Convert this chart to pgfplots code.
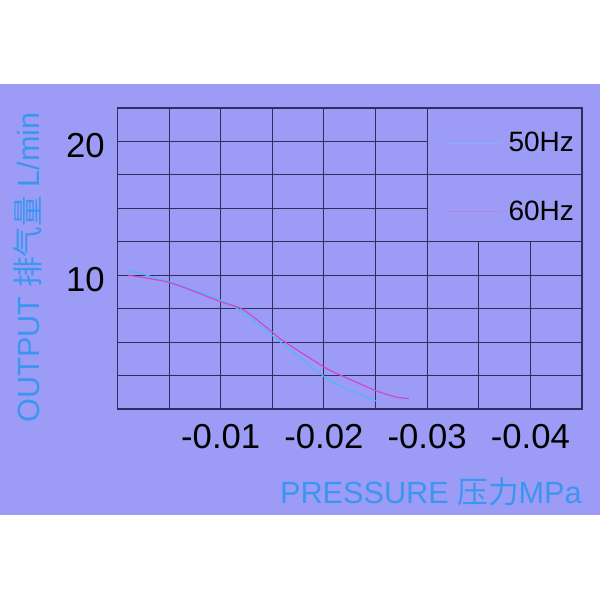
\documentclass[border=0pt]{standalone}
\usepackage{pgfplots}
\pgfplotsset{compat=1.18}
\usepackage{fontspec}
\setmainfont{Liberation Sans}
\newfontfamily\cjk{Noto Sans CJK SC}

\definecolor{bgpanel}{HTML}{9C9CF6}
\definecolor{gridc}{HTML}{2E2E5E}
\definecolor{lblue}{HTML}{3C96F0}
\definecolor{c50}{HTML}{52B6F8}
\definecolor{c60}{HTML}{D048C8}

\begin{document}
\begin{tikzpicture}
  % picture is 450pt x 450pt (1 px = 0.75pt)
  \useasboundingbox (0,0) rectangle (450pt,450pt);
  \fill[white] (0,0) rectangle (450pt,450pt);
  \fill[bgpanel] (0,63.75pt) rectangle (450pt,387pt);

  \begin{axis}[
    at={(88.1pt,143.25pt)}, anchor=south west,
    width=348.4pt, height=225.75pt, scale only axis,
    xmin=-0.045, xmax=0, x dir=reverse,
    ymin=0, ymax=22.5,
    scaled x ticks=false, scaled y ticks=false,
    axis line style={gridc, line width=0.8pt},
    xtick={-0.04,-0.03,-0.02,-0.01},
    xticklabels={-0.04,-0.03,-0.02,-0.01},
    ytick={10,20}, yticklabels={10,20},
    major tick length=0pt,
    tick label style={font=\fontsize{26}{26}\selectfont, black},
    xticklabel style={yshift=-8pt},
    yticklabel style={xshift=-6pt, yshift=-3pt},
    legend style={draw=none, fill=none, at={(0.694,0.77)}, anchor=west,
      font=\fontsize{21}{21}\selectfont, row sep=35pt,
      nodes={inner sep=0pt}},
    legend cell align=left,
    /tikz/every odd column/.append style={column sep=4pt},
    legend image code/.code={\draw[#1] (0pt,0pt) -- (43.5pt,0pt);},
  ]
    % grid, with the legend corner left open
    \foreach \x in {-0.005,-0.01,-0.015,-0.02,-0.025,-0.03}
      {\edef\tmp{\noexpand\draw[gridc, line width=0.8pt] (axis cs:\x,0) -- (axis cs:\x,22.5);}\tmp}
    \foreach \x in {-0.035,-0.04}
      {\edef\tmp{\noexpand\draw[gridc, line width=0.8pt] (axis cs:\x,0) -- (axis cs:\x,12.5);}\tmp}
    \foreach \y in {2.5,5,7.5,10,12.5,17.5}
      {\edef\tmp{\noexpand\draw[gridc, line width=0.8pt] (axis cs:0,\y) -- (axis cs:-0.045,\y);}\tmp}
    \foreach \y in {15,20}
      {\edef\tmp{\noexpand\draw[gridc, line width=0.8pt] (axis cs:0,\y) -- (axis cs:-0.03,\y);}\tmp}

    \addplot[c50, line width=0.9pt, smooth, forget plot] coordinates {
      (-0.00096,10.39) (-0.00508,9.49) (-0.00984,8.19) (-0.01216,7.23)
      (-0.01492,5.55) (-0.01601,4.87) (-0.01997,2.46) (-0.0218,1.66)
      (-0.02508,0.60)
    };
    \addplot[c60, line width=0.9pt, smooth, forget plot] coordinates {
      (-0.00106,9.99) (-0.00508,9.44) (-0.00984,8.06) (-0.01216,7.43)
      (-0.01492,5.80) (-0.01601,5.12) (-0.01997,3.16) (-0.0218,2.46)
      (-0.02508,1.36) (-0.02695,0.90) (-0.02823,0.78)
    };
    \addlegendimage{color=c50!85!white, line width=0.8pt, dash pattern=on 1.2pt off 0.8pt}
    \addlegendentry{50Hz}
    \addlegendimage{color=c60!80!white, line width=0.8pt, dash pattern=on 1.2pt off 0.8pt}
    \addlegendentry{60Hz}
  \end{axis}

  \node[rotate=90, lblue, font=\fontsize{23}{23}\selectfont, inner sep=0pt]
    at (21pt,249.4pt) {OUTPUT {\cjk 排气量} L/min};
  \node[anchor=east, lblue, font=\fontsize{23}{23}\selectfont, inner sep=0pt]
    at (436.5pt,81pt) {PRESSURE {\cjk 压力}MPa};
\end{tikzpicture}
\end{document}
